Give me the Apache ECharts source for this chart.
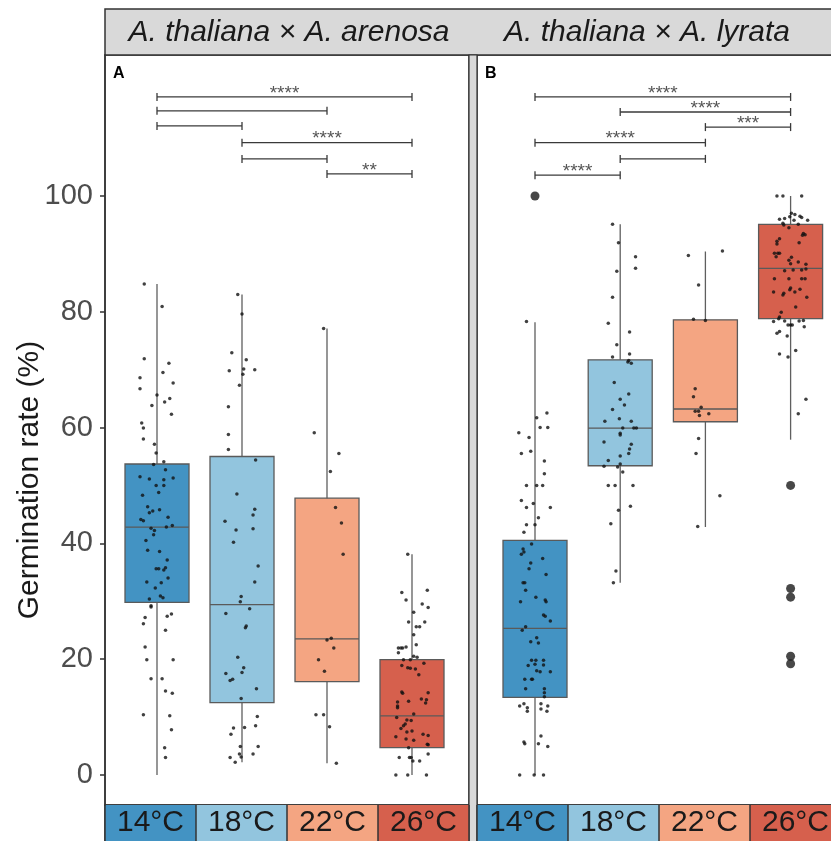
<!DOCTYPE html>
<html lang="en">
<head>
<meta charset="UTF-8" />
<title>Germination rate</title>
<script src="https://cdn.jsdelivr.net/npm/echarts@6/dist/echarts.min.js"></script>
<style>
html, body { margin: 0; padding: 0; background: #fff; }
#main { width: 831px; height: 841px; }
</style>
</head>
<body>
<div id="main"></div>
<script type="text/javascript">
// categories and colours
var temps = ['14°C', '18°C', '22°C', '26°C'];
var tempColors = ['#4393c3', '#92c5de', '#f4a582', '#d6604d'];
var yTicks = [0, 20, 40, 60, 80, 100];

// box stats per temperature: [whisker low, Q1, median, Q3, whisker high]
var boxA = [[0, 29.8, 42.8, 53.7, 84.8], [2.2, 12.5, 29.4, 55.0, 83.0], [2.0, 16.1, 23.5, 47.8, 77.1], [0, 4.7, 10.2, 19.9, 38.1]];
var boxB = [[0, 13.4, 25.3, 40.5, 78.2], [33.2, 53.4, 59.9, 71.7, 95.1], [42.8, 61.0, 63.2, 78.6, 90.4], [57.9, 78.8, 87.5, 95.1, 100]];

// outliers (category index, value)
var outliersB = [[0, 100], [3, 50.0], [3, 32.2], [3, 30.7], [3, 20.5], [3, 19.2]];

// jittered observations: [jitter offset, value]
var a14 = [[-0.15,84.8],[0.06,80.9],[-0.15,71.9],[0.14,71.1],[-0.20,68.6],[0.07,69.5],[0.19,67.7],[-0.20,66.7],[0.00,65.6],[0.15,65.0],[0.09,64.4],[-0.06,63.8],[0.17,62.3],[-0.18,60.8],[-0.16,59.9],[-0.16,58.0],[-0.03,57.1],[-0.01,55.6],[0.08,54.1],[-0.04,53.6],[0.10,52.7],[-0.20,51.5],[-0.09,51.1],[0.19,51.3],[0.08,51.0],[-0.01,50.0],[0.08,50.0],[0.02,48.8],[-0.17,48.3],[-0.09,45.3],[-0.11,46.3],[-0.05,45.6],[0.03,45.8],[0.13,44.5],[-0.19,44.1],[-0.16,43.9],[0.11,42.8],[0.18,43.1],[-0.07,42.6],[-0.03,42.2],[-0.04,41.5],[-0.13,40.5],[-0.11,38.8],[0.03,38.6],[0.12,37.1],[0.10,35.8],[-0.01,35.6],[0.08,35.4],[0.02,35.6],[0.13,34.0],[-0.12,33.3],[0.05,33.2],[-0.02,32.3],[0.04,30.9],[0.07,30.6],[-0.09,30.4],[-0.07,29.2],[-0.07,29.0],[0.17,27.8],[0.12,27.4],[-0.14,27.2],[-0.16,26.1],[0.10,25.0],[-0.14,22.1],[-0.12,19.9],[0.19,19.9],[-0.07,16.6],[0.06,16.6],[0.10,14.5],[0.18,14.1],[-0.16,10.4],[0.15,10.2],[0.17,7.8],[0.09,4.7],[0.10,3.0]];
var a18 = [[-0.05,83.0],[0.00,79.6],[-0.12,72.9],[0.05,71.7],[-0.15,69.8],[0.02,70.1],[0.15,70.0],[0.01,69.2],[-0.03,67.3],[-0.16,63.6],[-0.16,58.8],[-0.16,56.2],[0.16,54.4],[-0.06,48.5],[0.15,45.9],[0.13,44.9],[-0.20,43.8],[-0.07,42.3],[0.13,42.5],[-0.10,40.2],[0.19,36.1],[0.15,33.3],[-0.01,30.8],[-0.02,29.9],[0.09,28.7],[-0.19,27.9],[0.05,25.7],[0.04,25.4],[-0.05,20.3],[0.02,18.5],[-0.19,17.5],[0.00,17.7],[-0.11,16.5],[-0.14,16.3],[0.17,14.9],[-0.01,13.2],[0.18,10.1],[-0.10,8.1],[0.03,8.2],[-0.13,7.0],[0.16,8.5],[-0.02,4.9],[0.19,4.9],[-0.03,3.6],[-0.01,3.1],[-0.14,3.0],[0.13,3.6],[-0.08,2.2]];
var a22 = [[-0.04,77.1],[-0.15,59.1],[0.14,55.5],[0.04,52.4],[0.10,46.2],[0.17,43.5],[0.19,38.1],[0.00,23.3],[0.05,23.6],[0.08,21.9],[-0.10,19.9],[-0.03,17.9],[-0.13,10.4],[-0.04,10.4],[0.03,8.3],[0.11,2.0]];
var a26 = [[-0.05,38.1],[-0.12,31.5],[0.18,31.9],[-0.07,30.2],[0.12,29.5],[0.19,28.9],[0.02,28.1],[-0.04,26.4],[0.15,26.4],[0.05,25.6],[0.09,25.6],[0.02,24.2],[0.05,22.5],[-0.16,21.9],[-0.13,21.9],[-0.11,21.9],[-0.07,22.1],[-0.16,21.1],[0.02,20.5],[0.06,20.3],[-0.10,19.9],[-0.02,19.9],[-0.12,18.9],[-0.05,18.5],[-0.02,18.4],[0.04,18.3],[0.14,19.3],[0.08,17.3],[-0.12,14.3],[-0.11,14.1],[0.19,14.2],[-0.04,12.7],[-0.17,12.6],[0.11,13.1],[0.17,13.0],[0.16,12.4],[-0.17,11.9],[-0.17,11.6],[0.02,10.5],[-0.18,9.9],[-0.06,9.5],[-0.01,9.4],[-0.08,8.8],[-0.10,8.5],[-0.13,8.0],[0.00,7.6],[-0.06,7.4],[0.13,7.0],[0.19,6.8],[0.18,5.3],[0.19,5.2],[-0.19,6.6],[-0.07,6.2],[0.02,6.0],[-0.04,4.7],[-0.01,3.0],[-0.03,3.0],[-0.15,3.0],[0.19,3.6],[0.09,2.4],[0.01,2.4],[-0.19,0],[-0.05,0],[0.17,0]];
var b14 = [[-0.10,78.3],[0.02,61.7],[0.14,62.5],[0.06,60.0],[0.15,60.0],[-0.19,59.1],[-0.07,58.3],[-0.16,55.5],[-0.05,55.9],[0.11,54.2],[0.11,52.0],[-0.10,50.0],[0.02,50.0],[0.09,50.0],[-0.16,47.4],[-0.02,46.9],[-0.10,46.2],[0.18,46.2],[0.04,44.4],[-0.10,43.2],[0.00,43.2],[-0.13,41.9],[-0.04,39.9],[-0.14,39.0],[-0.13,38.5],[-0.16,38.1],[0.09,37.4],[-0.05,36.6],[-0.07,35.6],[0.13,34.6],[-0.14,33.2],[-0.12,33.2],[-0.11,31.9],[0.01,30.7],[-0.17,29.9],[0.12,30.2],[0.13,29.9],[0.10,27.6],[0.12,27.4],[0.18,26.6],[-0.11,25.6],[-0.15,25.0],[0.02,23.7],[-0.05,23.0],[0.04,22.8],[-0.04,19.8],[0.01,19.8],[0.10,19.8],[-0.08,18.9],[0.00,19.1],[0.10,19.0],[0.02,18.0],[0.06,17.8],[0.18,17.8],[-0.12,16.5],[-0.04,16.5],[-0.03,16.5],[-0.11,14.9],[0.11,14.9],[0.11,14.2],[0.11,13.5],[-0.13,12.3],[-0.18,11.9],[-0.09,11.6],[-0.09,11.0],[0.07,12.3],[0.15,11.9],[0.07,11.4],[0.14,11.0],[0.07,6.7],[-0.13,5.7],[-0.12,5.4],[0.04,5.4],[0.15,4.9],[-0.18,0],[-0.01,0],[0.10,0]];
var b18 = [[-0.09,95.1],[-0.02,91.9],[0.18,89.5],[0.18,87.5],[-0.04,87.0],[-0.09,82.5],[-0.14,78.0],[0.11,76.5],[-0.04,74.3],[-0.09,72.2],[0.11,72.7],[0.10,71.6],[0.09,71.3],[0.13,71.1],[-0.07,67.8],[0.00,64.9],[0.05,63.9],[0.10,65.8],[-0.09,63.1],[-0.18,61.1],[-0.01,61.5],[0.13,61.1],[0.03,59.9],[0.16,59.9],[0.19,59.9],[0.00,59.0],[0.00,58.7],[-0.19,57.5],[0.13,57.1],[0.11,56.3],[0.10,55.5],[0.00,55.1],[-0.14,54.3],[-0.19,53.3],[-0.03,53.2],[0.00,53.7],[0.03,52.3],[-0.14,50.0],[-0.06,50.0],[0.15,50.0],[-0.02,45.7],[0.12,46.4],[-0.11,43.4],[-0.05,35.2],[-0.08,33.2]];
var b22 = [[-0.20,89.7],[0.20,90.5],[-0.08,84.6],[-0.14,78.7],[0.00,78.5],[-0.12,66.7],[-0.14,65.3],[-0.05,63.5],[-0.12,62.8],[-0.08,62.8],[0.04,62.4],[-0.07,62.1],[-0.08,58.1],[-0.11,55.5],[0.17,48.2],[-0.09,42.9]];
var b26 = [[-0.16,100],[-0.09,100],[0.13,100],[0.01,97.0],[0.05,96.8],[-0.01,96.4],[0.11,96.5],[0.13,96.3],[-0.13,96.0],[-0.07,96.1],[0.04,95.8],[0.20,95.8],[0.09,95.1],[-0.09,95.3],[-0.08,95.0],[-0.02,94.5],[0.15,93.5],[0.17,93.3],[0.14,93.2],[-0.13,92.6],[-0.16,92.2],[0.10,91.9],[-0.16,91.7],[-0.19,90.1],[-0.15,90.1],[-0.13,90.1],[-0.17,89.5],[0.01,89.4],[-0.02,88.9],[0.09,88.6],[0.18,88.2],[0.00,88.3],[-0.07,87.1],[0.03,87.2],[0.13,87.2],[0.18,87.4],[-0.02,85.7],[-0.19,85.7],[0.17,85.7],[0.13,85.7],[0.00,84.1],[-0.01,83.8],[0.11,83.9],[-0.09,82.9],[-0.08,83.2],[0.05,83.4],[-0.20,83.4],[0.19,82.5],[0.06,80.8],[-0.11,79.9],[-0.13,79.1],[-0.14,78.8],[-0.20,78.3],[-0.07,78.4],[-0.03,77.7],[0.00,77.7],[0.02,77.7],[0.10,78.4],[0.15,78.5],[0.16,77.4],[-0.16,76.3],[-0.13,76.6],[-0.04,75.8],[0.06,73.3],[-0.13,72.7],[-0.03,72.2],[0.18,64.9],[0.09,62.4]];

// significance brackets: [from category, to category, height] and their labels
var bracketsA = [[0, 3, 117.1], [0, 2, 114.7], [0, 1, 112.1], [1, 3, 109.2], [1, 2, 106.4], [2, 3, 103.8]];
var bracketLabelsA = ['****', '', '', '****', '', '**'];
var bracketsB = [[0, 3, 117.1], [1, 3, 114.5], [2, 3, 111.9], [0, 2, 109.2], [1, 2, 106.4], [0, 1, 103.6]];
var bracketLabelsB = ['****', '****', '***', '****', '', '****'];

var FONT = '"Liberation Sans", Arial, sans-serif';
var yMin = -5.2, yMax = 124.35;

function jitterData(groups) {
  var out = [];
  groups.forEach(function (g, i) {
    g.forEach(function (p) { out.push([i + p[0], p[1]]); });
  });
  return out;
}

function boxData(stats) {
  // whiskers are drawn separately (ggplot style, no end caps)
  return stats.map(function (b, i) {
    return { value: [b[1], b[1], b[2], b[3], b[3]], itemStyle: { color: tempColors[i] } };
  });
}

function whiskerSeries(stats, xi, yi) {
  return {
    type: 'custom', xAxisIndex: xi, yAxisIndex: yi, z: 1, silent: true,
    data: stats.map(function (b, i) { return [i, b[0], b[4]]; }),
    renderItem: function (params, api) {
      var p1 = api.coord([api.value(0), api.value(1)]);
      var p2 = api.coord([api.value(0), api.value(2)]);
      return { type: 'line', shape: { x1: p1[0], y1: p1[1], x2: p2[0], y2: p2[1] },
        style: { stroke: '#5f5f5f', lineWidth: 1.3 } };
    }
  };
}

function bracketSeries(list, labels, xi, yi) {
  return {
    type: 'custom', xAxisIndex: xi, yAxisIndex: yi, z: 5, silent: true,
    data: list,
    renderItem: function (params, api) {
      var p1 = api.coord([api.value(0), api.value(2)]);
      var p2 = api.coord([api.value(1), api.value(2)]);
      var cap = 4, st = { stroke: '#3a3a3a', lineWidth: 1.3 };
      var kids = [
        { type: 'line', shape: { x1: p1[0], y1: p1[1], x2: p2[0], y2: p2[1] }, style: st },
        { type: 'line', shape: { x1: p1[0], y1: p1[1] - cap, x2: p1[0], y2: p1[1] + cap }, style: st },
        { type: 'line', shape: { x1: p2[0], y1: p2[1] - cap, x2: p2[0], y2: p2[1] + cap }, style: st }
      ];
      var lab = labels[params.dataIndex];
      if (lab) {
        kids.push({ type: 'text', x: (p1[0] + p2[0]) / 2, y: p1[1] + 6,
          style: { text: lab, fill: '#555', font: '19px ' + FONT, align: 'center', verticalAlign: 'bottom' } });
      }
      return { type: 'group', children: kids };
    }
  };
}

function stripAxis(gi) {
  return {
    type: 'category', gridIndex: gi, data: temps, position: 'top',
    axisLine: { show: false }, axisTick: { show: false },
    splitLine: { show: true, interval: 0, lineStyle: { color: '#333', width: 1.5 } },
    splitArea: { show: true, interval: 0, areaStyle: { color: tempColors, opacity: 1 } },
    axisLabel: { inside: true, interval: 0, margin: 3, fontSize: 30, color: '#1a1a1a', verticalAlign: 'top',
      fontFamily: '"Liberation Sans Narrow", "Liberation Sans", Arial, sans-serif' }
  };
}

var hiddenY = function (gi) { return { type: 'value', gridIndex: gi, min: yMin, max: yMax, show: false }; };
var hiddenCat = function (gi) { return { type: 'category', gridIndex: gi, data: temps, show: false }; };
var hiddenVal = function (gi) { return { type: 'value', gridIndex: gi, min: -0.5, max: 3.5, show: false }; };

var myChart = echarts.init(document.getElementById('main'));
var option = {
  animation: false,
  backgroundColor: '#fff',
  grid: [
    { left: 105, top: 55, width: 364, height: 750, show: true, borderColor: '#333', borderWidth: 1.5, outerBoundsMode: 'none' },
    { left: 114.5, top: 55, width: 340, height: 750, outerBoundsMode: 'none' },
    { left: 477, top: 55, width: 364, height: 750, show: true, borderColor: '#333', borderWidth: 1.5, outerBoundsMode: 'none' },
    { left: 492.4, top: 55, width: 340.8, height: 750, outerBoundsMode: 'none' },
    { left: 105, top: 805, width: 364, height: 40, show: true, borderColor: '#333', borderWidth: 1.5, outerBoundsMode: 'none' },
    { left: 477, top: 805, width: 364, height: 40, show: true, borderColor: '#333', borderWidth: 1.5, outerBoundsMode: 'none' }
  ],
  xAxis: [
    hiddenCat(0), hiddenCat(1), hiddenVal(1),
    hiddenCat(2), hiddenCat(3), hiddenVal(3),
    stripAxis(4), stripAxis(5)
  ],
  yAxis: [
    {
      type: 'value', gridIndex: 0, min: yMin, max: yMax,
      splitLine: { show: false },
      axisLine: { show: true, lineStyle: { color: '#333', width: 1.5 } },
      axisTick: { show: true, length: 5, customValues: yTicks, lineStyle: { color: '#333', width: 1.5 } },
      axisLabel: { customValues: yTicks, fontSize: 29, color: '#4d4d4d', margin: 12, fontFamily: FONT }
    },
    hiddenY(1), hiddenY(2), hiddenY(3),
    { type: 'value', gridIndex: 4, show: false }, { type: 'value', gridIndex: 5, show: false }
  ],
  graphic: [
    { type: 'rect', shape: { x: 105, y: 9, width: 740, height: 46 }, style: { fill: '#d9d9d9', stroke: '#333', lineWidth: 1.5 } },
    { type: 'rect', shape: { x: 469, y: 55, width: 8, height: 800 }, style: { fill: '#d9d9d9', stroke: '#333', lineWidth: 1.2 } },
    { type: 'text', x: 289, y: 33, style: { text: 'A. thaliana × A. arenosa', font: 'italic 30px ' + FONT, fill: '#1a1a1a', align: 'center', verticalAlign: 'middle' } },
    { type: 'text', x: 647, y: 33, style: { text: 'A. thaliana × A. lyrata', font: 'italic 30px ' + FONT, fill: '#1a1a1a', align: 'center', verticalAlign: 'middle' } },
    { type: 'text', x: 113, y: 74, style: { text: 'A', font: 'bold 16px ' + FONT, fill: '#000', align: 'left', verticalAlign: 'middle' } },
    { type: 'text', x: 485, y: 74, style: { text: 'B', font: 'bold 16px ' + FONT, fill: '#000', align: 'left', verticalAlign: 'middle' } },
    { type: 'text', x: 30, y: 480, rotation: Math.PI / 2, style: { text: 'Germination rate (%)', font: '30px ' + FONT, fill: '#1a1a1a', align: 'center', verticalAlign: 'middle' } }
  ],
  series: [
    whiskerSeries(boxA, 2, 1),
    { type: 'boxplot', xAxisIndex: 1, yAxisIndex: 1, z: 2, boxWidth: [64, 64], silent: true,
      itemStyle: { borderColor: '#5a5a5a', borderWidth: 1.3 }, data: boxData(boxA) },
    { type: 'scatter', xAxisIndex: 2, yAxisIndex: 1, z: 3, silent: true, symbolSize: 3.5,
      itemStyle: { color: '#111' }, data: jitterData([a14, a18, a22, a26]) },
    bracketSeries(bracketsA, bracketLabelsA, 2, 1),

    whiskerSeries(boxB, 5, 3),
    { type: 'boxplot', xAxisIndex: 4, yAxisIndex: 3, z: 2, boxWidth: [64, 64], silent: true,
      itemStyle: { borderColor: '#5a5a5a', borderWidth: 1.3 }, data: boxData(boxB) },
    { type: 'scatter', xAxisIndex: 5, yAxisIndex: 3, z: 3, silent: true, symbolSize: 3.5,
      itemStyle: { color: '#111' }, data: jitterData([b14, b18, b22, b26]) },
    { type: 'scatter', xAxisIndex: 5, yAxisIndex: 3, z: 3, silent: true, symbolSize: 9,
      itemStyle: { color: '#1a1a1a' }, data: outliersB },
    bracketSeries(bracketsB, bracketLabelsB, 5, 3)
  ]
};
myChart.setOption(option);
</script>
</body>
</html>
